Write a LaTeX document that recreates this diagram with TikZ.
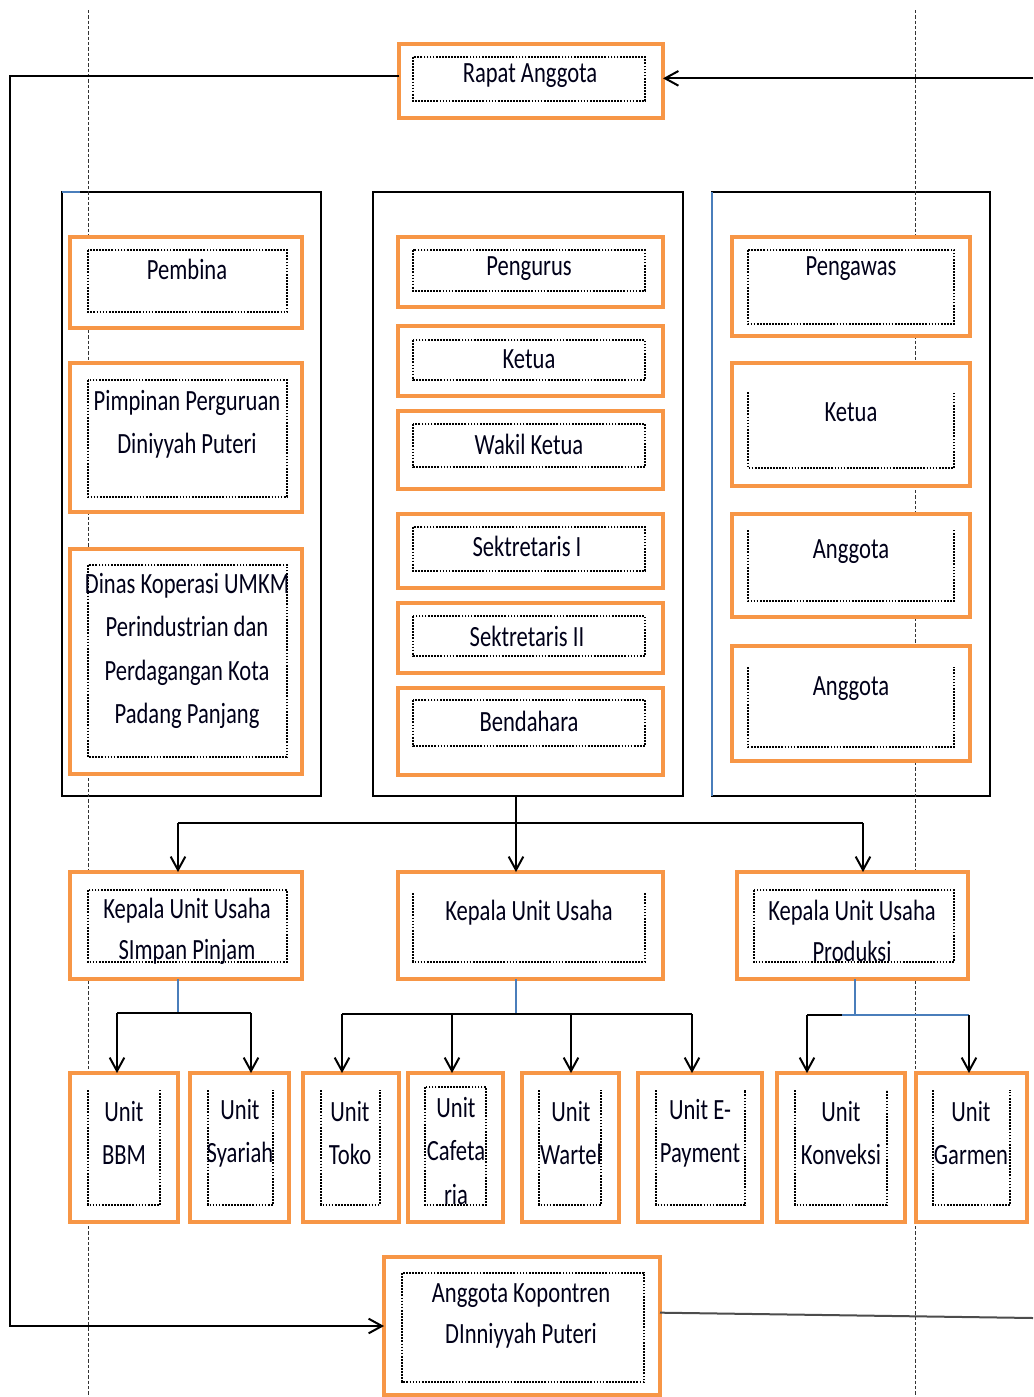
\documentclass[tikz,border=0pt]{standalone}
\usepackage{fontspec}
\newfontfamily\cf{Carlito}[FakeStretch=0.77]
\usetikzlibrary{arrows.meta,fit}
\definecolor{orng}{HTML}{F79646}
\definecolor{blu}{HTML}{4A7EBB}
\tikzset{
  obox/.style={draw=orng, line width=3pt, fill=white, inner sep=0pt, outer sep=0pt},
  bigrect/.style={draw=black, line width=1.5pt, inner sep=0pt, outer sep=0pt},
  idot/.style={draw=black, line width=1.3pt, densely dotted},
  guide/.style={draw=black!80, line width=0.7pt, dash pattern=on 2.5pt off 1.5pt},
  txt/.style={font=\cf\fontsize{22}{32.5}\selectfont, align=center, inner sep=0pt, yshift=-2.25pt, text=black!90!blue},
  conn/.style={draw=black, line width=1.5pt},
  blueline/.style={draw=blu, line width=1pt},
  arr/.style={-{Straight Barb[length=10pt,width=11pt]}},
}
\newcommand\obC[9]{\node[obox, fit={(#2,#3)(#4,#5)}] (#1) {};
  \draw[idot] (#6,#7) rectangle (#8,#9);}
\newcommand\obO[9]{\node[obox, fit={(#2,#3)(#4,#5)}] (#1) {};
  \draw[idot] (#6,#7) -- (#6,#9) -- (#8,#9) -- (#8,#7);}
\begin{document}
\begin{tikzpicture}[x=0.75pt,y=-0.75pt]
\useasboundingbox (0,0) rectangle (1033,1397);
% big column frames
\node[bigrect, fit={(62,192)(321,796)}] (colL) {};
\node[bigrect, fit={(373,192)(683,796)}] (colM) {};
\node[bigrect, fit={(712,192)(990,796)}] (colR) {};
\draw[blueline, line width=1.5pt] (colR.north west) -- (colR.south west);
\draw[blueline, line width=1.5pt] (colL.north west) -- ++(18,0);
% guide lines
\draw[guide] (88,10) -- (88,1397);
\draw[guide] (915,10) -- (915,1397);
% boxes
\obC{rapat}{399}{44}{663}{118}{413}{57}{645}{101}
\obC{pembina}{70}{237}{302}{328}{88}{250}{287}{312}
\obC{pimpinan}{70}{363}{302}{512}{88}{380}{287}{497}
\obC{dinas}{70}{549}{302}{774}{88}{565}{287}{757}
\obC{pengurus}{398}{237}{663}{307}{413}{250}{645}{291}
\obC{ketuaM}{398}{326}{663}{396}{413}{340}{645}{380}
\obC{wakil}{398}{411}{663}{489}{413}{424}{645}{467}
\obC{sek1}{398}{514}{663}{588}{413}{527}{645}{571}
\obC{sek2}{398}{603}{663}{673}{413}{616}{645}{656}
\obC{bendahara}{398}{688}{663}{775}{413}{700}{645}{746}
\obC{pengawas}{732}{237}{970}{336}{748}{250}{954}{324}
\obO{ketuaR}{732}{363}{970}{486}{748}{392}{954}{468}
\obO{anggota1}{732}{514}{970}{617}{748}{530}{954}{601}
\obO{anggota2}{732}{646}{970}{761}{748}{667}{954}{747}
\obC{kuusp}{70}{872}{302}{979}{88}{890}{287}{962}
\obO{kuu}{398}{872}{663}{979}{413}{893}{645}{962}
\obC{kuup}{737}{872}{968}{979}{754}{890}{954}{962}
\obO{bbm}{70}{1073}{178}{1222}{88}{1090}{160}{1205}
\obO{syariah}{190}{1073}{289}{1222}{208}{1090}{273}{1205}
\obO{toko}{303}{1073}{399}{1222}{321}{1090}{380}{1205}
\obC{cafe}{408}{1073}{503}{1222}{425}{1087}{486}{1205}
\obO{wartel}{522}{1073}{619}{1222}{539}{1090}{601}{1205}
\obO{epay}{638}{1073}{762}{1222}{656}{1090}{745}{1205}
\obO{konveksi}{777}{1073}{905}{1222}{795}{1090}{887}{1205}
\obO{garmen}{916}{1073}{1027}{1222}{933}{1090}{1010}{1205}
\obC{kop}{384}{1257}{660}{1395}{402}{1273}{644}{1382}
% texts
\node[txt] (tRapat) at (530,73) {Rapat Anggota};
\node[txt] (tPembina) at (187,266) {Pembina};
\node[txt] (tPimpinan) at (187,421) {Pimpinan Perguruan\\Diniyyah Puteri};
\node[txt] (tDinas) at (187,648) {Dinas Koperasi UMKM\\Perindustrian dan\\Perdagangan Kota\\Padang Panjang};
\node[txt] (tPengurus) at (529,266) {Pengurus};
\node[txt] (tKetuaM) at (529,356) {Ketua};
\node[txt] (tWakil) at (529,441) {Wakil Ketua};
\node[txt] (tSek1) at (527,543) {Sektretaris I};
\node[txt] (tSek2) at (527,633) {Sektretaris II};
\node[txt] (tBendahara) at (529,718) {Bendahara};
\node[txt] (tPengawas) at (851,266) {Pengawas};
\node[txt] (tKetuaR) at (851,409) {Ketua};
\node[txt] (tAnggota1) at (851,549) {Anggota};
\node[txt] (tAnggota2) at (851,686) {Anggota};
\node[txt, font=\cf\fontsize{22}{30.5}\selectfont] (tKuusp) at (187,928) {Kepala Unit Usaha\\SImpan Pinjam};
\node[txt] (tKuu) at (529,910) {Kepala Unit Usaha};
\node[txt, font=\cf\fontsize{22}{30.5}\selectfont] (tKuup) at (852,928) {Kepala Unit Usaha\\Produksi};
\node[txt] (tBbm) at (124,1130) {Unit\\BBM};
\node[txt] (tSyariah) at (240,1130) {Unit\\Syariah};
\node[txt] (tToko) at (350,1130) {Unit\\Toko};
\node[txt] (tCafe) at (456,1148) {Unit\\Cafeta\\ria};
\node[txt] (tWartel) at (571,1130) {Unit\\Wartel};
\node[txt] (tEpay) at (700,1130) {Unit E-\\Payment};
\node[txt] (tKonveksi) at (841,1130) {Unit\\Konveksi};
\node[txt] (tGarmen) at (971,1130) {Unit\\Garmen};
\node[txt, font=\cf\fontsize{22}{31}\selectfont] (tKop) at (521,1313) {Anggota Kopontren\\DInniyyah Puteri};
% outer loop connectors
\coordinate (Lx) at (10,0);
\coordinate (Rx) at (1033,0);
\coordinate (rw) at ([yshift=4pt]rapat.west);
\coordinate (re) at ([yshift=2pt]rapat.east);
\draw[conn,arr] (rw) -- (rw -| Lx) -- (kop.west -| Lx) -- (kop.west);
\draw[conn,arr] (re -| Rx) -- (re);
\coordinate (ke) at ([yshift=10pt]kop.east);
\coordinate (kr) at (1033,1318);
\draw[conn, draw=black!70] (ke) -- (kr);
% level 1
\coordinate (bus1) at (516,823);
\coordinate (b1l) at (178,823);
\coordinate (b1r) at (863,823);
\draw[conn] (bus1 |- colM.south) -- (bus1);
\draw[conn] (b1l) -- (b1r);
\draw[conn,arr] (bus1) -- (bus1 |- kuu.north);
\draw[conn,arr] (b1l) -- (b1l |- kuusp.north);
\draw[conn,arr] (b1r) -- (b1r |- kuup.north);
% level 2 simpan pinjam
\coordinate (sp) at (178,1013);
\coordinate (spl) at (117,1013);
\coordinate (spr) at (251,1013);
\draw[blueline] (sp |- kuusp.south) -- (sp);
\draw[conn] (spl) -- (spr);
\draw[conn,arr] (spl) -- (spl |- bbm.north);
\draw[conn,arr] (spr) -- (spr |- syariah.north);
% level 2 middle
\coordinate (um) at (516,1014);
\coordinate (u1) at (342,1014);
\coordinate (u2) at (452,1014);
\coordinate (u3) at (571,1014);
\coordinate (u4) at (692,1014);
\draw[blueline] (um |- kuu.south) -- (um);
\draw[conn] (u1) -- (u4);
\draw[conn,arr] (u1) -- (u1 |- toko.north);
\draw[conn,arr] (u2) -- (u2 |- cafe.north);
\draw[conn,arr] (u3) -- (u3 |- wartel.north);
\draw[conn,arr] (u4) -- (u4 |- epay.north);
% level 2 produksi
\coordinate (pm) at (855,1015);
\coordinate (p1) at (807,1015);
\coordinate (pb) at (842,1015);
\coordinate (p2) at (969,1015);
\draw[blueline] (pm |- kuup.south) -- (pm);
\draw[conn] (p1) -- (pb);
\draw[blueline, line width=1.5pt] (pb) -- (p2);
\draw[conn,arr] (p1) -- (p1 |- konveksi.north);
\draw[conn,arr] (p2) -- (p2 |- garmen.north);
\end{tikzpicture}
\end{document}
